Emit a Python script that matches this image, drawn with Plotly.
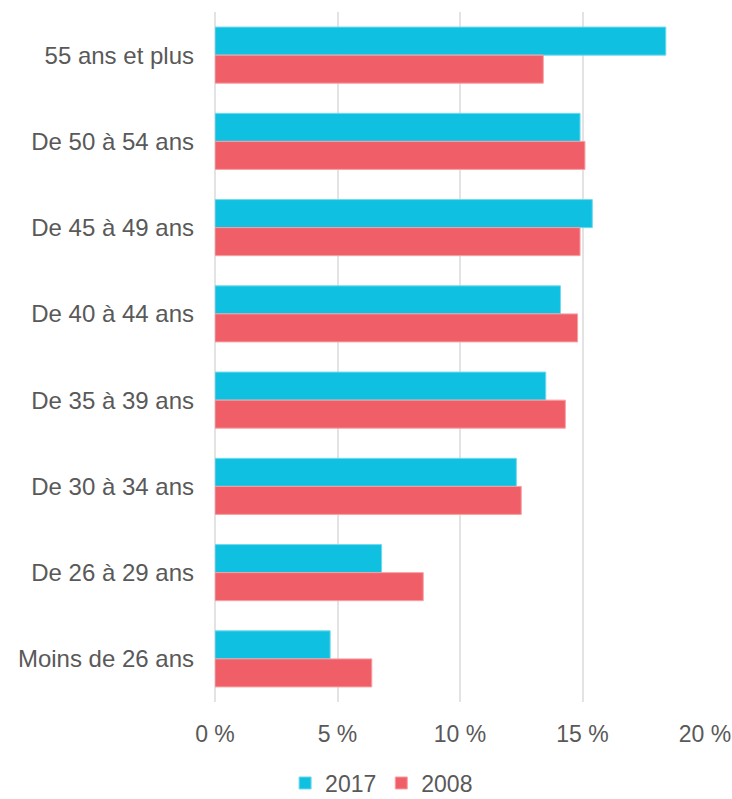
import plotly.graph_objects as go

categories = ["55 ans et plus", "De 50 à 54 ans", "De 45 à 49 ans", "De 40 à 44 ans",
              "De 35 à 39 ans", "De 30 à 34 ans", "De 26 à 29 ans", "Moins de 26 ans"]
values_2017 = [18.4, 14.9, 15.4, 14.1, 13.5, 12.3, 6.8, 4.7]
values_2008 = [13.4, 15.1, 14.9, 14.8, 14.3, 12.5, 8.5, 6.4]
x_ticks = [0, 5, 10, 15, 20]
x_labels = ["0 %", "5 %", "10 %", "15 %", "20 %"]

fig = go.Figure()
fig.add_trace(go.Bar(
    y=categories, x=values_2017, name="2017", orientation="h",
    marker=dict(color="#10C0E0", line=dict(color="#6fd9ee", width=1)),
))
fig.add_trace(go.Bar(
    y=categories, x=values_2008, name="2008", orientation="h",
    marker=dict(color="#F05F67", line=dict(color="#f6a0a4", width=1)),
))

fig.update_layout(
    width=732, height=799,
    barmode="group", bargap=0.35, bargroupgap=0,
    plot_bgcolor="white", paper_bgcolor="white",
    margin=dict(l=215, r=27, t=12, b=97),
    font=dict(family="Liberation Sans, Arial, sans-serif", size=23, color="#595959"),
    legend=dict(orientation="h", x=0.34, xanchor="center", yref="container", y=0.02, yanchor="middle",
                font=dict(size=23, color="#595959"), itemwidth=30, traceorder="normal"),
    showlegend=True,
)
fig.update_xaxes(
    range=[0, 20], tickvals=x_ticks, ticktext=x_labels, automargin=False,
    showgrid=True, gridcolor="#e3e3e3", gridwidth=1.5,
    zeroline=True, zerolinecolor="#e3e3e3", zerolinewidth=1.5,
    showline=False, ticks="", ticklabelstandoff=16,
)
fig.update_yaxes(
    categoryorder="array", categoryarray=categories, autorange="reversed", automargin=False,
    showgrid=False, showline=False, ticks="", ticklabelstandoff=20,
    tickfont=dict(size=24),
)

fig.write_html("out.html", config={"displayModeBar": False},
               post_script="document.body.style.margin='0';")
